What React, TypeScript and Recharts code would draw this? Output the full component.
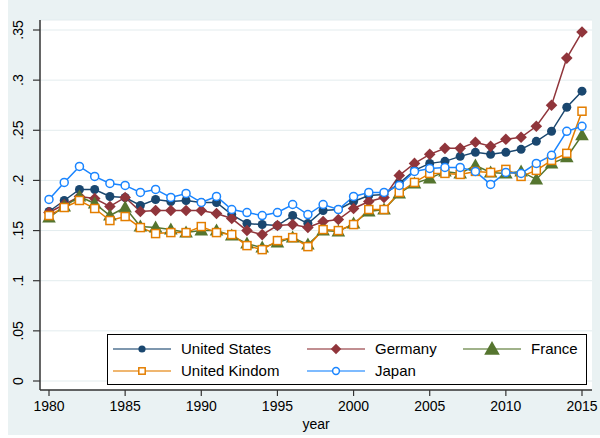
import { LineChart, Line, XAxis, YAxis, CartesianGrid, Legend } from "recharts";

const years = [
  1980, 1981, 1982, 1983, 1984, 1985, 1986, 1987, 1988, 1989, 1990, 1991,
  1992, 1993, 1994, 1995, 1996, 1997, 1998, 1999, 2000, 2001, 2002, 2003,
  2004, 2005, 2006, 2007, 2008, 2009, 2010, 2011, 2012, 2013, 2014, 2015,
];

const unitedStates = [
  0.169, 0.18, 0.191, 0.191, 0.184, 0.183, 0.175, 0.181, 0.179, 0.18, 0.178, 0.178,
  0.166, 0.157, 0.156, 0.155, 0.165, 0.157, 0.17, 0.171, 0.179, 0.185, 0.186, 0.197,
  0.21, 0.217, 0.219, 0.224, 0.228, 0.226, 0.228, 0.231, 0.239, 0.249, 0.273, 0.289,
];

const germany = [
  0.168, 0.176, 0.184, 0.182, 0.174, 0.183, 0.169, 0.17, 0.17, 0.17, 0.17, 0.167,
  0.162, 0.15, 0.146, 0.155, 0.156, 0.153, 0.159, 0.161, 0.172, 0.179, 0.183, 0.205,
  0.217, 0.226, 0.232, 0.232, 0.238, 0.234, 0.241, 0.243, 0.254, 0.275, 0.322, 0.348,
];

const france = [
  0.163, 0.174, 0.184, 0.177, 0.165, 0.173, 0.154, 0.153, 0.151, 0.148, 0.15, 0.15,
  0.145, 0.137, 0.133, 0.138, 0.143, 0.136, 0.15, 0.149, 0.157, 0.169, 0.171, 0.187,
  0.197, 0.202, 0.209, 0.207, 0.215, 0.208, 0.207, 0.209, 0.201, 0.217, 0.223, 0.245,
];

const unitedKingdom = [
  0.165, 0.173, 0.18, 0.172, 0.16, 0.164, 0.153, 0.147, 0.148, 0.148, 0.154, 0.148,
  0.146, 0.135, 0.131, 0.14, 0.143, 0.134, 0.151, 0.15, 0.156, 0.171, 0.171, 0.188,
  0.198, 0.207, 0.207, 0.206, 0.209, 0.208, 0.211, 0.204, 0.21, 0.22, 0.227, 0.269,
];

const japan = [
  0.181, 0.198, 0.214, 0.204, 0.197, 0.195, 0.188, 0.191, 0.183, 0.187, 0.178, 0.184,
  0.171, 0.168, 0.165, 0.168, 0.176, 0.166, 0.176, 0.171, 0.184, 0.188, 0.188, 0.195,
  0.209, 0.212, 0.213, 0.213, 0.209, 0.196, 0.208, 0.207, 0.217, 0.225, 0.249, 0.254,
];

const xTicks = [1980, 1985, 1990, 1995, 2000, 2005, 2010, 2015];
const yTicks = [0, 0.05, 0.1, 0.15, 0.2, 0.25, 0.3, 0.35];
const yTickLabels = ["0", ".05", ".1", ".15", ".2", ".25", ".3", ".35"];

const NAVY = "#1a476f";
const MAROON = "#90353b";
const GREEN = "#55752f";
const ORANGE = "#e37e00";
const BLUE = "#1a85ff";
const FONT = "'Liberation Sans', Arial, sans-serif";

const data = years.map((year, i) => ({
  year,
  us: unitedStates[i],
  de: germany[i],
  fr: france[i],
  uk: unitedKingdom[i],
  jp: japan[i],
}));

type Shape = "circle" | "diamond" | "triangle" | "square" | "hollow";

function marker(shape: Shape, color: string, cx: number, cy: number, s: number, key?: any) {
  if (shape === "circle") return <circle key={key} cx={cx} cy={cy} r={4.5 * s} fill={color} />;
  if (shape === "hollow")
    return <circle key={key} cx={cx} cy={cy} r={4 * s} fill="#fff" stroke={color} strokeWidth={1.5} />;
  if (shape === "diamond") {
    const d = 5.8 * s;
    return (
      <path key={key} d={`M${cx},${cy - d}L${cx + d},${cy}L${cx},${cy + d}L${cx - d},${cy}Z`} fill={color} />
    );
  }
  if (shape === "triangle") {
    const w = 6.8 * s;
    return (
      <path
        key={key}
        d={`M${cx},${cy - 7 * s}L${cx + w},${cy + 5 * s}L${cx - w},${cy + 5 * s}Z`}
        fill={color}
      />
    );
  }
  const h = 4 * s;
  return (
    <rect key={key} x={cx - h} y={cy - h} width={2 * h} height={2 * h} fill="#fff" stroke={color} strokeWidth={1.5} />
  );
}

const dotFor = (shape: Shape, color: string) => (p: any) =>
  marker(shape, color, p.cx, p.cy, 1, p.index);

const legendItems: { name: string; shape: Shape; color: string; lx: number; ly: number; ms: number }[] = [
  { name: "United States", shape: "circle", color: NAVY, lx: 6, ly: 15, ms: 0.8 },
  { name: "Germany", shape: "diamond", color: MAROON, lx: 200, ly: 15, ms: 0.9 },
  { name: "France", shape: "triangle", color: GREEN, lx: 356, ly: 15, ms: 1.15 },
  { name: "United Kindom", shape: "square", color: ORANGE, lx: 6, ly: 37, ms: 0.8 },
  { name: "Japan", shape: "hollow", color: BLUE, lx: 200, ly: 37, ms: 0.85 },
];

function LegendBox() {
  return (
    <svg width={480} height={51} style={{ display: "block" }}>
      <rect x={0.5} y={0.5} width={479} height={50} fill="#fff" stroke="#000" strokeWidth={1} />
      {legendItems.map((it) => (
        <g key={it.name}>
          <line x1={it.lx} x2={it.lx + 58} y1={it.ly} y2={it.ly} stroke={it.color} strokeWidth={1.5} strokeOpacity={0.75} />
          {marker(it.shape, it.color, it.lx + 29, it.ly, it.ms)}
          <text x={it.lx + 68} y={it.ly} dy="0.36em" fontSize={15} fontFamily={FONT} fill="#000">
            {it.name}
          </text>
        </g>
      ))}
    </svg>
  );
}

function YTick(props: any) {
  const { y, index } = props;
  return (
    <text
      x={10}
      y={y}
      transform={`rotate(-90, 10, ${y})`}
      textAnchor="middle"
      dy="0.36em"
      fontSize={14}
      fontFamily={FONT}
      fill="#000"
    >
      {yTickLabels[index]}
    </text>
  );
}

export default function App() {
  return (
    <div style={{ position: "absolute", left: 8, top: 0, width: 592, height: 435, background: "#eaf2f3" }}>
      <LineChart width={592} height={435} data={data} margin={{ top: 20, right: 8, bottom: 0, left: 0 }}>
        <CartesianGrid vertical={false} stroke="#e3ecee" fill="#fff" />
        <XAxis
          dataKey="year"
          type="number"
          domain={[1980, 2015]}
          ticks={xTicks}
          padding={{ left: 9, right: 10 }}
          height={45}
          tickSize={6}
          tickMargin={5}
          stroke="#333"
          axisLine={{ stroke: "#333", strokeWidth: 1.5 }}
          tickLine={{ stroke: "#333", strokeWidth: 1.2 }}
          tick={{ fontSize: 14, fill: "#000", fontFamily: FONT }}
          label={{ value: "year", position: "insideBottom", offset: 6, fontSize: 14, fill: "#000", fontFamily: FONT }}
        />
        <YAxis
          type="number"
          domain={[0, 0.35]}
          ticks={yTicks}
          padding={{ top: 10, bottom: 9 }}
          width={32}
          tickSize={7}
          axisLine={{ stroke: "#333", strokeWidth: 1.5 }}
          tickLine={{ stroke: "#333", strokeWidth: 1.2 }}
          tick={<YTick />}
        />
        <Legend
          layout="horizontal"
          align="center"
          verticalAlign="middle"
          content={() => <LegendBox />}
          wrapperStyle={{ position: "absolute", left: 99, top: 334, width: 480, height: 51 }}
        />
        <Line dataKey="us" name="United States" stroke={NAVY} strokeWidth={1.5} dot={dotFor("circle", NAVY)} isAnimationActive={false} />
        <Line dataKey="de" name="Germany" stroke={MAROON} strokeWidth={1.5} dot={dotFor("diamond", MAROON)} isAnimationActive={false} />
        <Line dataKey="fr" name="France" stroke={GREEN} strokeWidth={1.5} dot={dotFor("triangle", GREEN)} isAnimationActive={false} />
        <Line dataKey="uk" name="United Kindom" stroke={ORANGE} strokeWidth={1.5} dot={dotFor("square", ORANGE)} isAnimationActive={false} />
        <Line dataKey="jp" name="Japan" stroke={BLUE} strokeWidth={1.5} dot={dotFor("hollow", BLUE)} isAnimationActive={false} />
      </LineChart>
    </div>
  );
}
